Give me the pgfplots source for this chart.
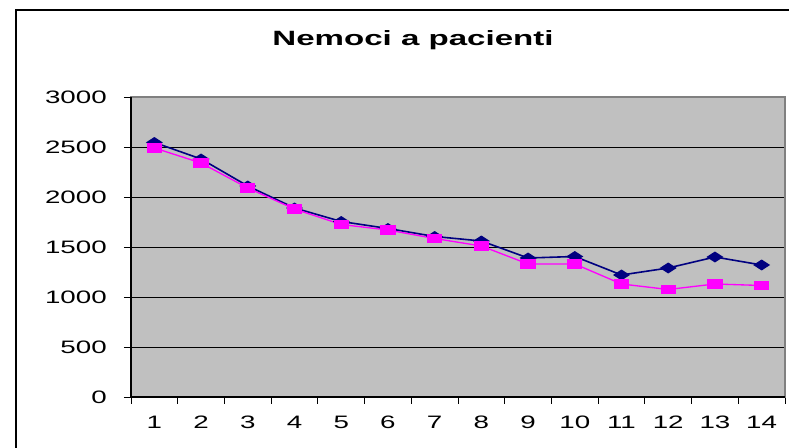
\documentclass[border=0pt]{standalone}
\usepackage{fontspec}
\setmainfont{Liberation Sans}
\usepackage{pgfplots}
\pgfplotsset{compat=1.18}
\definecolor{plotgray}{RGB}{192,192,192}
\definecolor{bordergray}{RGB}{128,128,128}
\definecolor{navyc}{RGB}{0,0,128}
\definecolor{magc}{RGB}{255,0,255}
\begin{document}
\begin{tikzpicture}
\useasboundingbox (0,0) rectangle (591.75pt,336pt);
\draw[line width=1.1pt] (12pt,-2pt) -- (12pt,328.5pt) -- (594pt,328.5pt);
\node[font=\bfseries\fontsize{15.5}{18}\selectfont, xscale=1.6] at (309.75pt,306pt) {Nemoci a pacienti};
\begin{axis}[at={(98.25pt,38.25pt)}, anchor=south west, scale only axis,
  width=490.5pt, height=225pt,
  xmin=0.5, xmax=14.5, ymin=0, ymax=3000,
  xtick={0.5,1.5,...,14.5}, xticklabels={},
  extra x ticks={1,...,14},
  extra x tick style={major tick length=0pt, xticklabel style={yshift=-11pt}},
  ytick={0,500,...,3000},
  yticklabel style={xshift=-4.9pt},
  tick pos=left, tick align=outside,
  major tick length=5.25pt,
  tick style={black, line width=0.6pt},
  ymajorgrids, grid style={black, line width=0.6pt},
  axis background/.style={fill=plotgray},
  axis line style={draw=bordergray, line width=1.5pt},
  ticklabel style={font=\fontsize{13.5}{15}\selectfont, xscale=1.54},
  /pgf/number format/assume math mode=true,
  /pgf/number format/set thousands separator={},
  clip=false,
]
\addplot[navyc, line width=1.2pt, mark=diamond*, mark size=3.4pt,
  mark options={xscale=2.06, solid, fill=navyc}] coordinates {
  (1,2545) (2,2380) (3,2110) (4,1890) (5,1755) (6,1685) (7,1605)
  (8,1560) (9,1390) (10,1405) (11,1220) (12,1290) (13,1400) (14,1320)};
\addplot[magc, line width=1pt, mark=square*, mark size=3pt,
  mark options={xscale=1.75, solid, fill=magc}] coordinates {
  (1,2490) (2,2340) (3,2090) (4,1880) (5,1725) (6,1670) (7,1585)
  (8,1510) (9,1330) (10,1330) (11,1130) (12,1075) (13,1130) (14,1115)};
\draw[black, line width=0.8pt] (rel axis cs:0,1) -- (rel axis cs:0,0) -- (rel axis cs:1,0);
\end{axis}
\end{tikzpicture}
\end{document}
